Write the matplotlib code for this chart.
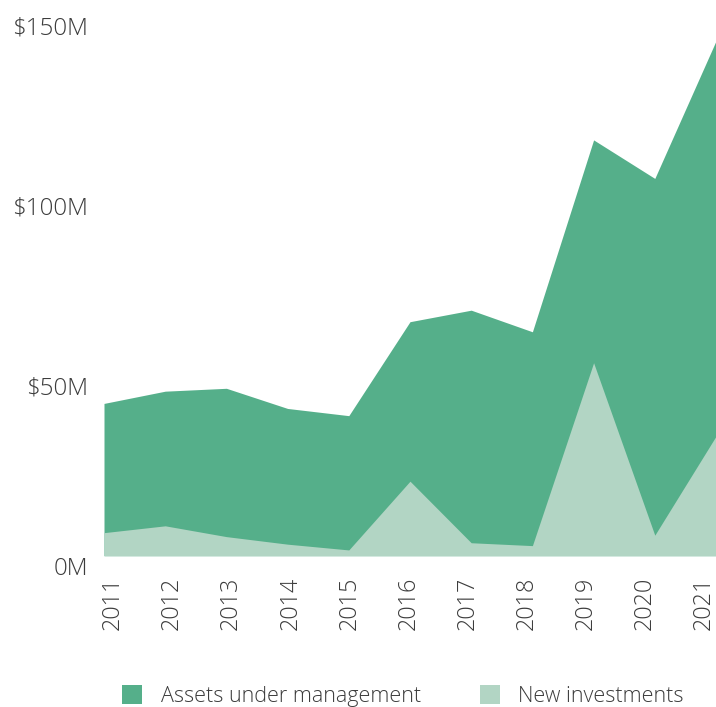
import numpy as np
import matplotlib
matplotlib.use("Agg")
import matplotlib.pyplot as plt
from matplotlib.patches import Patch
from matplotlib.transforms import ScaledTranslation

years = [2011, 2012, 2013, 2014, 2015, 2016, 2017, 2018, 2019, 2020, 2021]
assets = [42.3, 45.7, 46.5, 40.9, 38.9, 65.0, 68.2, 62.2, 115.5, 104.8, 143.0]
new_inv = [6.4, 8.3, 5.3, 3.2, 1.6, 20.7, 3.6, 2.8, 53.6, 5.7, 33.2]
ytick_vals = [0, 50, 100, 150]
ytick_labels = ["0M", "$50M", "$100M", "$150M"]
series_names = ["Assets under management", "New investments"]

c_dark = "#55AF8A"
c_light = "#B2D5C4"
txt = "#3c3c3c"

plt.rcParams['font.family'] = ['Open Sans', 'DejaVu Sans']
plt.rcParams['font.weight'] = 'light'

fig = plt.figure(figsize=(7.16, 7.07), dpi=100)
W, H = 716, 707
ax = fig.add_axes([104 / W, 1 - 555.7 / H, (716 - 104) / W, (555.7 - 15.7) / H])

ax.fill_between(years, 0, assets, color=c_dark, linewidth=0)
ax.fill_between(years, 0, new_inv, color=c_light, linewidth=0)

ax.set_xlim(years[0], years[-1])
ax.set_ylim(0, 150)
for s in ax.spines.values():
    s.set_visible(False)

ax.set_yticks(ytick_vals)
ax.set_yticklabels(ytick_labels, fontsize=17.4, color=txt, fontweight='light')
ax.tick_params(axis='y', length=0, pad=11.5)
for lab in ax.get_yticklabels():
    lab.set_transform(lab.get_transform() + ScaledTranslation(0, -10 / 100, fig.dpi_scale_trans))

xt = np.linspace(years[0] + 9 / 61.2, years[-1] - 12 / 61.2, len(years))
ax.set_xticks(xt)
ax.set_xticklabels([str(y) for y in years], rotation=90, fontsize=16.8, color=txt,
                   fontweight='light', ha='center', va='top')
ax.tick_params(axis='x', length=0, pad=15)

handles = [Patch(facecolor=c_dark, edgecolor='none'), Patch(facecolor=c_light, edgecolor='none')]
leg = fig.legend(handles, series_names, loc='center', bbox_to_anchor=(403 / W, 1 - 696 / H),
                 ncol=2, frameon=False, fontsize=15.5, handlelength=0.93, handleheight=0.93,
                 handletextpad=0.85, columnspacing=2.75, borderpad=0, borderaxespad=0)
for t in leg.get_texts():
    t.set_color(txt)
    t.set_fontweight('light')

fig.savefig("out.png", dpi=100, facecolor="white")
